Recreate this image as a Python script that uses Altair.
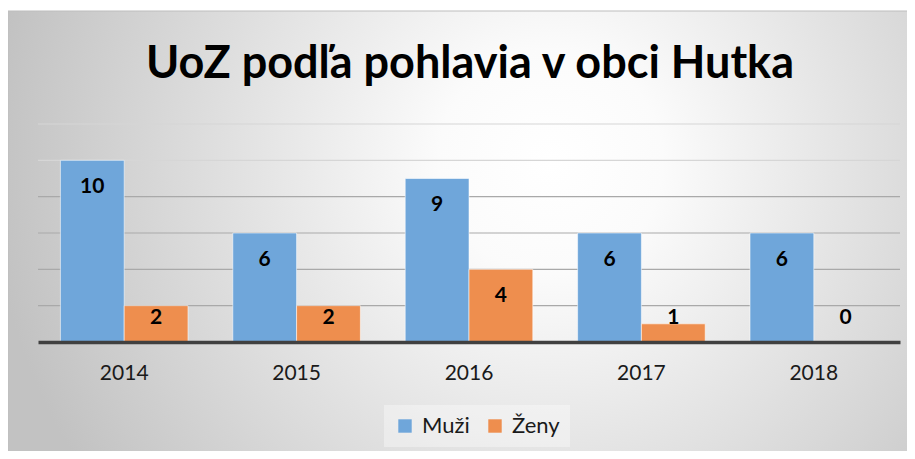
import altair as alt
import pandas as pd

years = ["2014", "2015", "2016", "2017", "2018"]
muzi = [10, 6, 9, 6, 6]
zeny = [2, 2, 4, 1, 0]
series = ["Muži", "Ženy"]
colors = ["#6FA6DA", "#EE8E4E"]
grid_values = [2, 4, 6, 8, 10, 12]
title_text = "UoZ podľa pohlavia v obci Hutka"

rows = []
for i, y in enumerate(years):
    rows.append({"rok": y, "pohlavie": series[0], "pocet": muzi[i]})
    rows.append({"rok": y, "pohlavie": series[1], "pocet": zeny[i]})
df = pd.DataFrame(rows)
grid_df = pd.DataFrame({"g": grid_values})

W, H = 862, 218
FONT = "Lato"

bg = alt.Chart(alt.Data(values=[{"k": 1}])).mark_rect(
    fill={
        "gradient": "radial",
        "x1": 0.6, "y1": 0.42, "r1": 0,
        "x2": 0.6, "y2": 0.42, "r2": 0.62,
        "stops": [
            {"offset": 0, "color": "#ffffff"},
            {"offset": 0.2, "color": "#fbfbfb"},
            {"offset": 1, "color": "#c2c2c2"},
        ],
    },
    stroke="#bdbdbd",
    strokeWidth=1,
).encode(
    x=alt.value(-30), x2=alt.value(W + 12),
    y=alt.value(-113), y2=alt.value(H + 115),
)

title = alt.Chart(alt.Data(values=[{"t": title_text}])).mark_text(
    font=FONT, fontSize=45, fontWeight="bold", color="#000000",
    align="center", baseline="alphabetic",
).encode(
    x=alt.value(W / 2 + 1), y=alt.value(-46), text="t:N"
)

yscale = alt.Scale(domain=[0, 12], nice=False)

grid = alt.Chart(grid_df).mark_rule(strokeWidth=1.2).encode(
    y=alt.Y("g:Q", scale=yscale, axis=None),
    color=alt.condition("datum.g >= 10", alt.value("#d6d6d6"), alt.value("#a9a9a9")),
)

xenc = alt.X(
    "rok:N",
    sort=years,
    scale=alt.Scale(paddingInner=0.26, paddingOuter=0.13),
    axis=alt.Axis(
        title=None, labelAngle=0, ticks=False, domain=True,
        domainColor="#404040", domainWidth=3.5,
        labelFont=FONT, labelFontSize=21, labelColor="#1a1a1a",
        labelPadding=20, grid=False, zindex=1,
    ),
)
yenc = alt.Y("pocet:Q", scale=yscale, axis=None)

bars = alt.Chart(df).mark_bar(stroke="#ffffff", strokeOpacity=0.55, strokeWidth=1).encode(
    x=xenc,
    xOffset=alt.XOffset("pohlavie:N", sort=series),
    y=yenc,
    color=alt.Color(
        "pohlavie:N",
        sort=series,
        scale=alt.Scale(domain=series, range=colors),
        legend=alt.Legend(
            title=None, orient="none", direction="horizontal",
            legendX=346, legendY=281,
            symbolType="square", symbolSize=180, symbolStrokeWidth=0,
            symbolOpacity=1,
            labelFont=FONT, labelFontSize=22, labelColor="#1a1a1a",
            labelOffset=6, columnPadding=14,
            fillColor="rgba(255,255,255,0.35)", padding=10,
        ),
    ),
)

labels = alt.Chart(df).transform_calculate(
    lab_y="max(datum.pocet - 1.48, 1.32)"
).mark_text(
    font=FONT, fontSize=21, fontWeight="bold", color="#000000", baseline="middle"
).encode(
    x=alt.X("rok:N", sort=years),
    xOffset=alt.XOffset("pohlavie:N", sort=series),
    y=alt.Y("lab_y:Q", scale=yscale, axis=None),
    text=alt.Text("pocet:Q"),
)

chart = alt.layer(bg, title, grid, bars, labels).resolve_scale(color="independent").properties(
    width=W,
    height=H,
    autosize=alt.AutoSizeParams(type="none"),
    padding={"left": 30, "top": 116, "right": 7, "bottom": 109},
    background="#ffffff",
).configure_view(stroke=None)

chart.save("out.html", embed_options={"renderer": "svg", "actions": False})
